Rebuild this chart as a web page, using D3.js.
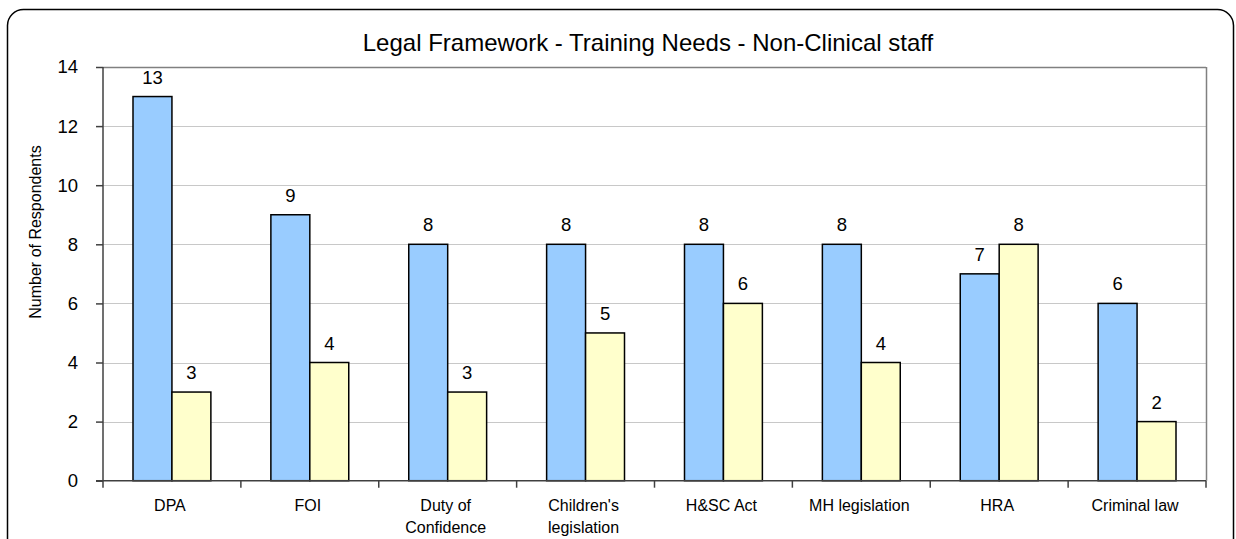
<!DOCTYPE html>
<html>
<head>
<meta charset="utf-8">
<script src="https://cdn.jsdelivr.net/npm/d3@7"></script>
<style>
  body { margin: 0; background: #fff; }
  text { font-family: Arial, "Liberation Sans", sans-serif; }
</style>
</head>
<body>
<svg id="chart" width="1236" height="539"></svg>
<script>
var categories = ["DPA", "FOI", "Duty of\nConfidence", "Children's\nlegislation", "H&SC Act", "MH legislation", "HRA", "Criminal law"];
var seriesA = [13, 9, 8, 8, 8, 8, 7, 6];
var seriesB = [3, 4, 3, 5, 6, 4, 8, 2];
var yTicks = [0, 2, 4, 6, 8, 10, 12, 14];

var svg = d3.select("#chart"),
  MARGINS = { top: 67, right: 30, bottom: 58, left: 103 },
  WIDTH = 1236, HEIGHT = 539;

// outer rounded frame
svg.append("rect")
  .attr("x", 7.5).attr("y", 9.5)
  .attr("width", 1226).attr("height", 545)
  .attr("rx", 16).attr("ry", 16)
  .attr("fill", "#fff").attr("stroke", "#000").attr("stroke-width", 1.5);

svg.append("text")
  .attr("x", 648).attr("y", 51)
  .attr("text-anchor", "middle")
  .attr("font-size", 24)
  .text("Legal Framework - Training Needs - Non-Clinical staff");

var x = d3.scaleBand()
  .domain(categories)
  .range([MARGINS.left, WIDTH - MARGINS.right])
  .padding(0);

// pair of bars 78px wide centred in each band
var xInner = d3.scaleBand()
  .domain(["a", "b"])
  .range([30, x.bandwidth() - 30])
  .padding(0);

var y = d3.scaleLinear()
  .domain([0, 14])
  .range([HEIGHT - MARGINS.bottom - 0.3, MARGINS.top]);

// gridlines
svg.append("g")
  .selectAll("line")
  .data(yTicks.filter(function (d) { return d > 0; }))
  .enter().append("line")
  .attr("x1", MARGINS.left).attr("x2", WIDTH - MARGINS.right)
  .attr("y1", function (d) { return Math.round(y(d)) + 0.5; })
  .attr("y2", function (d) { return Math.round(y(d)) + 0.5; })
  .attr("stroke", function (d) { return d === 14 ? "#808080" : "#c8c8c8"; })
  .attr("stroke-width", function (d) { return d === 14 ? 1.5 : 1; });

// right border of plot
svg.append("line")
  .attr("x1", WIDTH - MARGINS.right + 0.5).attr("x2", WIDTH - MARGINS.right + 0.5)
  .attr("y1", y(14)).attr("y2", y(0))
  .attr("stroke", "#808080").attr("stroke-width", 1.5);

// bars
var groups = svg.append("g")
  .selectAll("g")
  .data(categories)
  .enter().append("g")
  .attr("transform", function (d) { return "translate(" + x(d) + ",0)"; });

groups.append("rect")
  .attr("x", xInner("a"))
  .attr("y", function (d, i) { return y(seriesA[i]); })
  .attr("width", xInner.bandwidth())
  .attr("height", function (d, i) { return y(0) - y(seriesA[i]); })
  .attr("fill", "#99ccff").attr("stroke", "#000").attr("stroke-width", 1.5);

groups.append("rect")
  .attr("x", xInner("b"))
  .attr("y", function (d, i) { return y(seriesB[i]); })
  .attr("width", xInner.bandwidth())
  .attr("height", function (d, i) { return y(0) - y(seriesB[i]); })
  .attr("fill", "#ffffcc").attr("stroke", "#000").attr("stroke-width", 1.5);

groups.append("text")
  .attr("x", xInner("a") + xInner.bandwidth() / 2)
  .attr("y", function (d, i) { return y(seriesA[i]) - 13; })
  .attr("text-anchor", "middle").attr("font-size", 18.5)
  .text(function (d, i) { return seriesA[i]; });

groups.append("text")
  .attr("x", xInner("b") + xInner.bandwidth() / 2)
  .attr("y", function (d, i) { return y(seriesB[i]) - 13; })
  .attr("text-anchor", "middle").attr("font-size", 18.5)
  .text(function (d, i) { return seriesB[i]; });

// y axis
var yAxis = svg.append("g")
  .attr("transform", "translate(" + MARGINS.left + ",0)")
  .call(d3.axisLeft(y).tickValues(yTicks).tickSize(7).tickPadding(18).tickFormat(d3.format("d")));
yAxis.select(".domain").attr("stroke", "#404040").attr("stroke-width", 1.5).attr("d", "M0," + y(0) + "V" + y(14));
yAxis.selectAll(".tick line").attr("stroke", "#404040").attr("stroke-width", 1.5);
yAxis.selectAll(".tick text").attr("font-size", 18.5).attr("font-family", "Arial, 'Liberation Sans', sans-serif").attr("fill", "#000");

// x axis
var xAxis = svg.append("g")
  .attr("transform", "translate(0," + y(0) + ")")
  .call(d3.axisBottom(x).tickSize(0).tickFormat(""));
xAxis.select(".domain").attr("stroke", "#404040").attr("stroke-width", 1.5)
  .attr("d", "M" + (MARGINS.left - 7) + ",0H" + (WIDTH - MARGINS.right));

svg.append("g").selectAll("line")
  .data(d3.range(categories.length + 1))
  .enter().append("line")
  .attr("x1", function (i) { return MARGINS.left + i * x.step(); })
  .attr("x2", function (i) { return MARGINS.left + i * x.step(); })
  .attr("y1", y(0)).attr("y2", y(0) + 7)
  .attr("stroke", "#404040").attr("stroke-width", 1.5);

// category labels
var labels = svg.append("g")
  .selectAll("text")
  .data(categories)
  .enter().append("text")
  .attr("x", function (d) { return x(d) + x.bandwidth() / 2 - 2; })
  .attr("y", y(0) + 30)
  .attr("text-anchor", "middle")
  .attr("font-size", 16);
labels.selectAll("tspan")
  .data(function (d) { return d.split("\n"); })
  .enter().append("tspan")
  .attr("x", function () { return this.parentNode.getAttribute("x"); })
  .attr("dy", function (d, i) { return i === 0 ? 0 : 22; })
  .text(function (d) { return d; });

// y axis title
svg.append("text")
  .attr("transform", "translate(41,232) rotate(-90)")
  .attr("text-anchor", "middle")
  .attr("font-size", 16)
  .text("Number of Respondents");
</script>
</body>
</html>
